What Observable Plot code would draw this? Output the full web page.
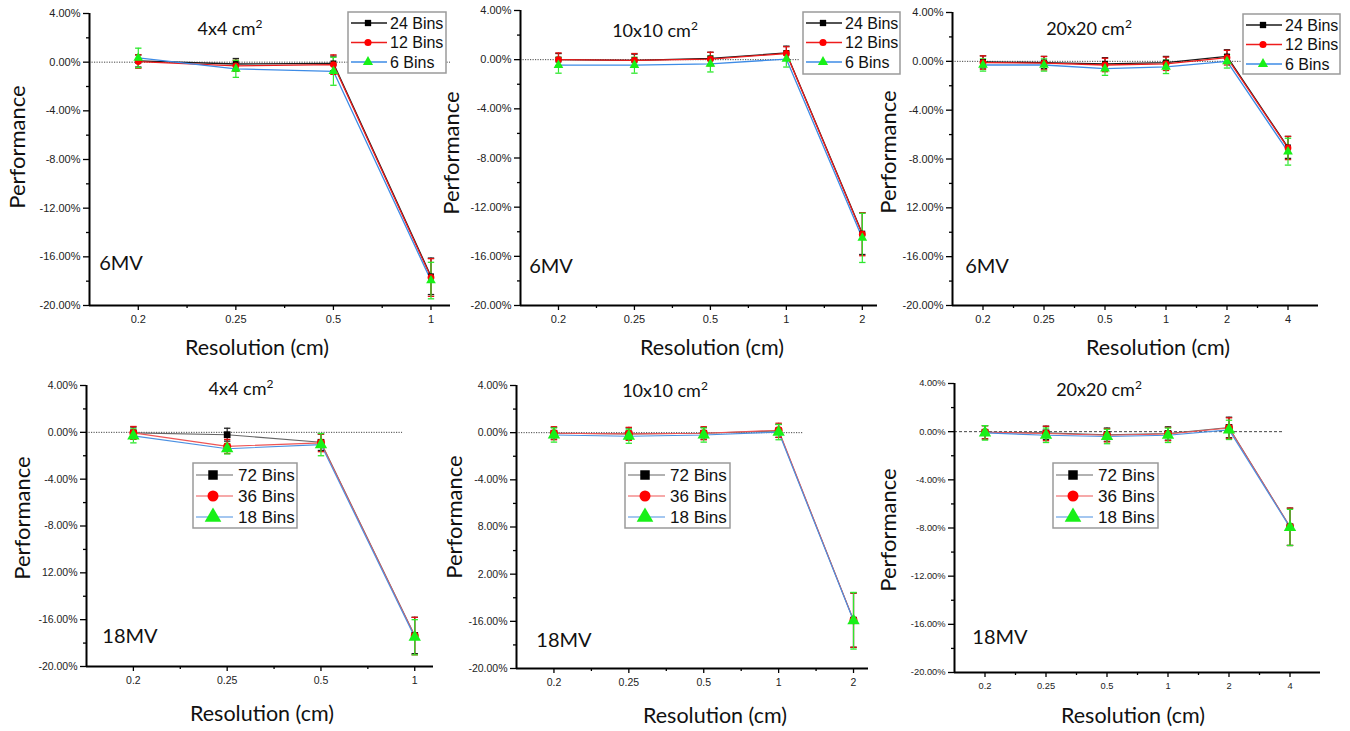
<!DOCTYPE html>
<html><head><meta charset="utf-8">
<script src="https://cdn.jsdelivr.net/npm/d3@7"></script>
<script src="https://cdn.jsdelivr.net/npm/@observablehq/plot@0.6"></script>
<style>
body{margin:0;background:#fff;}
#wrap{position:relative;width:1350px;height:731px;overflow:hidden;background:#fff;}
#wrap svg{position:absolute;left:0;top:0;}
</style></head><body><div id="wrap"></div>
<script>
// ---------- categories & labels ----------
const res4 = ["0.2", "0.25", "0.5", "1"];
const res5 = ["0.2", "0.25", "0.5", "1", "2"];
const res6 = ["0.2", "0.25", "0.5", "1", "2", "4"];
const yTicks = [4, 0, -4, -8, -12, -16, -20];
const yMinor = [2, -2, -6, -10, -14, -18];
const yLabelsStd = ["4.00%", "0.00%", "-4.00%", "-8.00%", "-12.00%", "-16.00%", "-20.00%"];
const yLabelsA = ["4.00%", "0.00%", "-4.00%", "-8.00%", "12.00%", "-16.00%", "-20.00%"];
const yLabelsB = ["4.00%", "0.00%", "-4.00%", "8.00%", "2.00%", "-16.00%", "-20.00%"];
const seriesTop = ["24 Bins", "12 Bins", "6 Bins"];
const seriesBottom = ["72 Bins", "36 Bins", "18 Bins"];
const fieldSizes = ["4x4 cm", "10x10 cm", "20x20 cm"];
const energies = ["6MV", "18MV"];
const xTitle = "Resolution (cm)";
const yTitle = "Performance";

// ---------- values (%) ----------
const mv6_4x4_24 = [0.1, -0.15, -0.1, -17.6];
const mv6_4x4_12 = [0.05, -0.3, -0.2, -17.7];
const mv6_4x4_6 = [0.35, -0.55, -0.75, -17.95];
const mv6_4x4_24_err = [0.5, 0.45, 0.6, 1.5];
const mv6_4x4_12_err = [0.55, 0.45, 0.8, 1.55];
const mv6_4x4_6_err = [0.8, 0.7, 1.15, 1.5];

const mv6_10x10_24 = [0.0, -0.05, 0.1, 0.55, -14.15];
const mv6_10x10_12 = [0.0, -0.05, 0.05, 0.5, -14.2];
const mv6_10x10_6 = [-0.45, -0.45, -0.35, 0.05, -14.5];
const mv6_10x10_24_err = [0.5, 0.5, 0.5, 0.55, 1.7];
const mv6_10x10_12_err = [0.55, 0.55, 0.55, 0.55, 1.75];
const mv6_10x10_6_err = [0.65, 0.65, 0.65, 0.65, 2.0];

const mv6_20x20_24 = [-0.05, -0.1, -0.2, -0.1, 0.4, -7.05];
const mv6_20x20_12 = [-0.1, -0.15, -0.3, -0.2, 0.3, -7.1];
const mv6_20x20_6 = [-0.3, -0.3, -0.6, -0.45, 0.0, -7.4];
const mv6_20x20_24_err = [0.5, 0.5, 0.5, 0.5, 0.55, 0.9];
const mv6_20x20_12_err = [0.55, 0.55, 0.55, 0.55, 0.6, 0.95];
const mv6_20x20_6_err = [0.5, 0.5, 0.55, 0.55, 0.55, 1.1];

const mv18_4x4_72 = [-0.05, -0.2, -0.85, -17.35];
const mv18_4x4_36 = [-0.05, -1.2, -0.9, -17.4];
const mv18_4x4_18 = [-0.3, -1.4, -1.05, -17.5];
const mv18_4x4_72_err = [0.5, 0.55, 0.7, 1.55];
const mv18_4x4_36_err = [0.55, 0.6, 0.75, 1.6];
const mv18_4x4_18_err = [0.6, 0.45, 0.95, 1.5];

const mv18_10x10_72 = [-0.05, -0.1, -0.05, 0.15, -15.9];
const mv18_10x10_36 = [-0.05, -0.1, -0.05, 0.2, -15.9];
const mv18_10x10_18 = [-0.2, -0.3, -0.2, 0.05, -15.95];
const mv18_10x10_72_err = [0.5, 0.5, 0.5, 0.55, 2.3];
const mv18_10x10_36_err = [0.55, 0.55, 0.55, 0.6, 2.3];
const mv18_10x10_18_err = [0.6, 0.6, 0.6, 0.65, 2.4];

const mv18_20x20_72 = [-0.05, -0.1, -0.25, -0.15, 0.35, -7.9];
const mv18_20x20_36 = [-0.05, -0.15, -0.3, -0.2, 0.3, -7.9];
const mv18_20x20_18 = [-0.1, -0.3, -0.4, -0.3, 0.15, -7.95];
const mv18_20x20_72_err = [0.55, 0.55, 0.55, 0.55, 0.85, 1.55];
const mv18_20x20_36_err = [0.55, 0.6, 0.55, 0.55, 0.85, 1.55];
const mv18_20x20_18_err = [0.6, 0.6, 0.6, 0.6, 0.8, 1.5];

// ---------- layout / style ----------
const W = 1350, H = 731;
const panels = [
  {res: res4, title: fieldSizes[0], energy: energies[0], names: seriesTop, row: 0, yLabels: yLabelsStd,
   vals: [mv6_4x4_24, mv6_4x4_12, mv6_4x4_6], errs: [mv6_4x4_24_err, mv6_4x4_12_err, mv6_4x4_6_err],
   f: {l: 89, r: 450, t: 13, b: 305}, xmax: 3.2, zeroEnd: 3.2, fs: 11,
   titlePos: [230, 35], energyPos: [121, 270], ylab: [16, 147], xlab: [257, 347], legend: [348, 12, 98, 61]},
  {res: res5, title: fieldSizes[1], energy: energies[0], names: seriesTop, row: 0, yLabels: yLabelsStd,
   vals: [mv6_10x10_24, mv6_10x10_12, mv6_10x10_6], errs: [mv6_10x10_24_err, mv6_10x10_12_err, mv6_10x10_6_err],
   f: {l: 520, r: 877, t: 10, b: 305}, xmax: 4.2, zeroEnd: 3.18, fs: 11,
   titlePos: [655, 37], energyPos: [551, 273], ylab: [450, 153], xlab: [712, 347], legend: [803, 12, 97, 62]},
  {res: res6, title: fieldSizes[2], energy: energies[0], names: seriesTop, row: 0, yLabels: yLabelsA,
   vals: [mv6_20x20_24, mv6_20x20_12, mv6_20x20_6], errs: [mv6_20x20_24_err, mv6_20x20_12_err, mv6_20x20_6_err],
   f: {l: 952, r: 1318, t: 12, b: 305}, xmax: 5.5, zeroEnd: 4.23, fs: 11,
   titlePos: [1089, 35], energyPos: [987, 273], ylab: [887, 152], xlab: [1158, 347], legend: [1243, 14, 97, 60]},
  {res: res4, title: fieldSizes[0], energy: energies[1], names: seriesBottom, row: 1, yLabels: yLabelsA,
   vals: [mv18_4x4_72, mv18_4x4_36, mv18_4x4_18], errs: [mv18_4x4_72_err, mv18_4x4_36_err, mv18_4x4_18_err],
   f: {l: 86, r: 433, t: 385, b: 666}, xmax: 3.2, zeroEnd: 2.87, fs: 10.5,
   titlePos: [241, 395], energyPos: [130, 643], ylab: [21, 518], xlab: [262, 713], legend: [193, 463, 104, 65]},
  {res: res5, title: fieldSizes[1], energy: energies[1], names: seriesBottom, row: 1, yLabels: yLabelsB,
   vals: [mv18_10x10_72, mv18_10x10_36, mv18_10x10_18], errs: [mv18_10x10_72_err, mv18_10x10_36_err, mv18_10x10_18_err],
   f: {l: 516, r: 868, t: 385, b: 668}, xmax: 4.2, zeroEnd: 3.33, fs: 10.5,
   titlePos: [665, 397], energyPos: [564, 647], ylab: [453, 517], xlab: [715, 715], legend: [625, 463, 105, 65]},
  {res: res6, title: fieldSizes[2], energy: energies[1], names: seriesBottom, row: 1, yLabels: yLabelsStd,
   vals: [mv18_20x20_72, mv18_20x20_36, mv18_20x20_18], errs: [mv18_20x20_72_err, mv18_20x20_36_err, mv18_20x20_18_err],
   f: {l: 954, r: 1320, t: 383, b: 672}, xmax: 5.5, zeroEnd: 4.9, fs: 9.3, dash: "3,2",
   titlePos: [1099, 396], energyPos: [1000, 644], ylab: [887, 530], xlab: [1133, 715], legend: [1053, 463, 105, 65]}
];

const lineColors = [["#1a1a1a", "#ee1c1c", "#3d8be6"], ["#666666", "#ee5555", "#4a90e2"]];
const errColors = ["#222222", "#e01010", "#2ee82e"];
const markFill = ["#000000", "#ff0000", "#18f018"];
const symbols = ["square", "circle", "triangle"];
const markR = [[3.3, 3.4, 3.6], [3.8, 4.0, 4.6]];
const capSymbol = {draw(ctx, size) { const w = Math.sqrt(size) / 2; ctx.moveTo(-w, 0); ctx.lineTo(w, 0); }};

const wrap = document.getElementById("wrap");

function makePanel(p) {
  const rows = [];
  p.vals.forEach((arr, s) => arr.forEach((v, i) => rows.push({s, i, v, e: p.errs[s][i]})));
  const bySeries = [0, 1, 2].map(s => rows.filter(r => r.s === s));
  const n = p.res.length;
  const marks = [
    Plot.ruleY([0], {x1: -0.5, x2: p.zeroEnd, stroke: "#444", strokeWidth: 1, strokeDasharray: p.dash || "1.2,1.3"}),
    Plot.axisY({ticks: yTicks, tickFormat: d => p.yLabels[yTicks.indexOf(d)], tickSize: 6, tickPadding: 3, fontSize: p.fs, label: null, strokeWidth: 1.3, fill: "#222"}),
    Plot.axisY({ticks: yMinor, tickFormat: () => "", tickSize: 3, label: null, strokeWidth: 1.3}),
    Plot.axisX({ticks: d3.range(n), tickFormat: i => p.res[i], tickSize: 5, tickPadding: 5, fontSize: p.fs, label: null, strokeWidth: 1.3, fill: "#222"}),
    Plot.axisX({ticks: d3.range(n - 1).map(i => i + 0.5), tickFormat: () => "", tickSize: 3, label: null, strokeWidth: 1.3})
  ];
  bySeries.forEach((d, s) => marks.push(Plot.line(d, {x: "i", y: "v", stroke: lineColors[p.row][s], strokeWidth: p.row === 0 ? 1.3 : 1.1})));
  bySeries.forEach((d, s) => {
    marks.push(Plot.ruleX(d, {x: "i", y1: r => r.v - r.e, y2: r => r.v + r.e, stroke: errColors[s], strokeWidth: 1.2}));
    marks.push(Plot.dot(d, {x: "i", y: r => r.v - r.e, symbol: capSymbol, r: 3.6, fill: "none", stroke: errColors[s], strokeWidth: 1.3}));
    marks.push(Plot.dot(d, {x: "i", y: r => r.v + r.e, symbol: capSymbol, r: 3.6, fill: "none", stroke: errColors[s], strokeWidth: 1.3}));
  });
  bySeries.forEach((d, s) => marks.push(Plot.dot(d, {x: "i", y: "v", symbol: symbols[s], r: markR[p.row][s], fill: markFill[s], stroke: "none"})));
  marks.push(Plot.ruleX([-0.5], {stroke: "#000", strokeWidth: 2}));
  marks.push(Plot.ruleY([-20], {stroke: "#000", strokeWidth: 2}));
  const svg = Plot.plot({
    width: W, height: H,
    marginLeft: p.f.l, marginRight: W - p.f.r, marginTop: p.f.t, marginBottom: H - p.f.b,
    x: {type: "linear", domain: [-0.5, p.xmax]},
    y: {type: "linear", domain: [-20, 4]},
    style: {background: "transparent", overflow: "visible", fontFamily: "'Liberation Sans', Arial, sans-serif", color: "#000"},
    marks
  });
  svg.style.position = "absolute";
  svg.style.left = "0px";
  svg.style.top = "0px";
  svg.style.maxWidth = "none";
  wrap.appendChild(svg);
}
panels.forEach(makePanel);

// ---------- overlay: titles, labels, legends ----------
const ov = d3.select(wrap).append("svg").attr("width", W).attr("height", H)
  .style("position", "absolute").style("left", "0px").style("top", "0px")
  .style("font-family", "Lato, 'Open Sans', sans-serif");

panels.forEach(p => {
  const t = ov.append("text").attr("x", p.titlePos[0]).attr("y", p.titlePos[1]).attr("text-anchor", "middle")
    .attr("font-size", 18).attr("fill", "#111");
  t.append("tspan").text(p.title);
  t.append("tspan").text("2").attr("font-size", 12).attr("dy", -7);
  ov.append("text").attr("x", p.energyPos[0]).attr("y", p.energyPos[1]).attr("text-anchor", "middle")
    .attr("font-size", 20).attr("fill", "#111").text(p.energy);
  ov.append("text").attr("transform", `translate(${p.ylab[0]},${p.ylab[1]}) rotate(-90)`).attr("text-anchor", "middle")
    .attr("dominant-baseline", "central").attr("font-size", 22).attr("fill", "#111").text(yTitle);
  ov.append("text").attr("x", p.xlab[0]).attr("y", p.xlab[1]).attr("text-anchor", "middle")
    .attr("dominant-baseline", "central").attr("font-size", 21.5).attr("fill", "#111").text(xTitle);

  const [lx, ly, lw, lh] = p.legend;
  const g = ov.append("g");
  g.append("rect").attr("x", lx).attr("y", ly).attr("width", lw).attr("height", lh)
    .attr("fill", "#fff").attr("stroke", "#9a9a9a").attr("stroke-width", 1.5);
  const top = p.row === 0;
  const rowOff = top ? [11, 30.5, 50] : [12, 33, 54];
  const sizes = top ? [40, 40, 45] : [90, 95, 120];
  p.names.forEach((name, s) => {
    const y = ly + rowOff[s];
    g.append("line").attr("x1", lx + 3).attr("x2", lx + (top ? 39 : 40)).attr("y1", y).attr("y2", y)
      .attr("stroke", lineColors[p.row][s]).attr("stroke-width", top ? 1.3 : 1.2);
    const sym = [d3.symbolSquare, d3.symbolCircle, d3.symbolTriangle][s];
    g.append("path").attr("d", d3.symbol(sym, sizes[s])()).attr("transform", `translate(${lx + 20},${y})`)
      .attr("fill", markFill[s]);
    g.append("text").attr("x", lx + (top ? 42 : 45)).attr("y", y).attr("dominant-baseline", "central")
      .attr("font-size", top ? 16 : 17).attr("font-family", "'Liberation Sans', Arial, sans-serif")
      .attr("fill", "#111").text(name);
  });
});
</script></body></html>
